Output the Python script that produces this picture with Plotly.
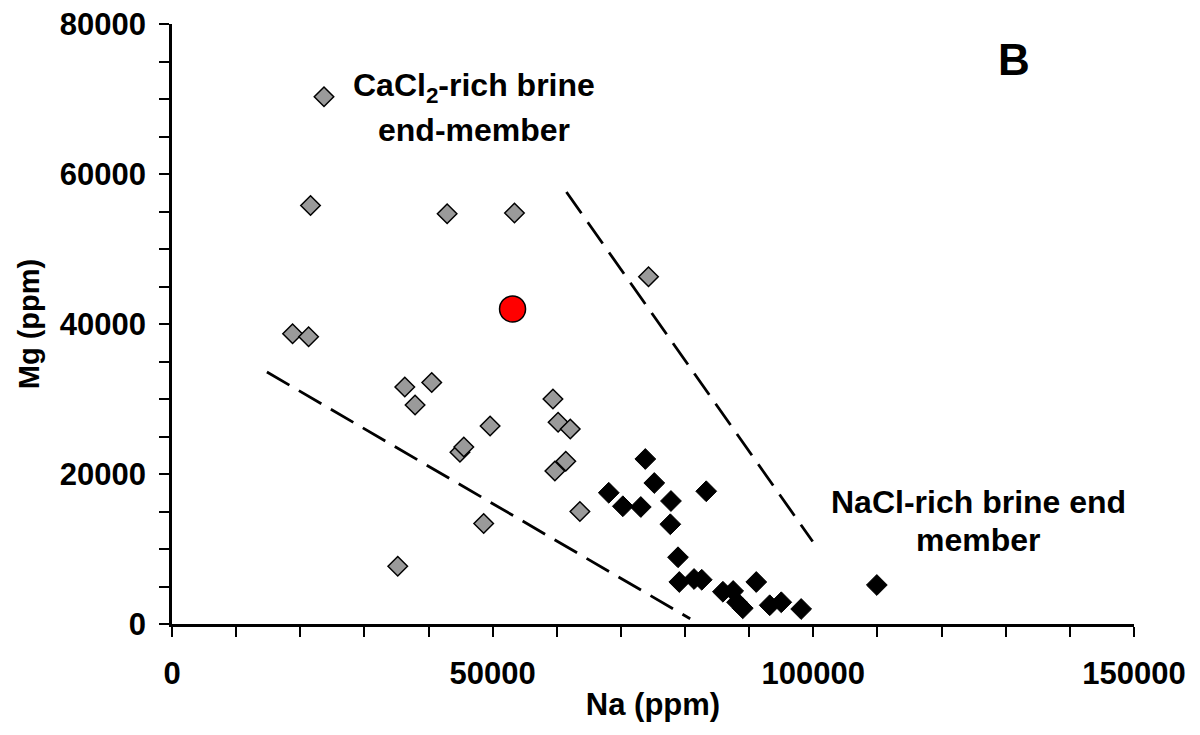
import plotly.graph_objects as go

# Gray diamonds (CaCl2-rich samples)
gray_na = [23700, 21600, 42900, 53400, 74300, 18800, 21300, 36300, 40500, 37900,
           59400, 60200, 62100, 49600, 44900, 45500, 59700, 61400, 63600, 48600, 35200]
gray_mg = [70300, 55800, 54700, 54800, 46300, 38700, 38300, 31600, 32200, 29200,
           30000, 26900, 26000, 26400, 22900, 23600, 20400, 21700, 15000, 13400, 7700]

# Black diamonds (NaCl-rich samples)
black_na = [73800, 75200, 68100, 70300, 73100, 77800, 77700, 83300, 78900, 79100,
            81400, 82600, 85900, 87500, 88100, 89000, 91100, 93200, 95000, 98100, 109900]
black_mg = [22000, 18800, 17500, 15700, 15600, 16400, 13300, 17700, 8900, 5600,
            6000, 5900, 4300, 4400, 2900, 2100, 5600, 2500, 2900, 2000, 5200]

# Red circle
red_na = [53100]
red_mg = [42000]

# Dashed boundary lines
line1_na = [14800, 80800]
line1_mg = [33600, 700]
line2_na = [61500, 99900]
line2_mg = [57600, 11000]

FONT = "Liberation Sans, Arial, sans-serif"

fig = go.Figure()

for lx, ly in [(line1_na, line1_mg), (line2_na, line2_mg)]:
    fig.add_trace(go.Scatter(x=lx, y=ly, mode="lines",
                             line=dict(color="black", width=2.8, dash="26px,11px"),
                             showlegend=False, hoverinfo="skip"))

fig.add_trace(go.Scatter(x=gray_na, y=gray_mg, mode="markers",
                         marker=dict(symbol="diamond", size=15, color="#9a9a9a",
                                     line=dict(color="black", width=1.5)),
                         showlegend=False))
fig.add_trace(go.Scatter(x=black_na, y=black_mg, mode="markers",
                         marker=dict(symbol="diamond", size=16, color="black",
                                     line=dict(color="black", width=1)),
                         showlegend=False))
fig.add_trace(go.Scatter(x=red_na, y=red_mg, mode="markers",
                         marker=dict(symbol="circle", size=26, color="#ff0000",
                                     line=dict(color="black", width=1.5)),
                         showlegend=False))

ann_font = dict(family=FONT, size=32, color="black")
annotations = [
    dict(x=47100, y=71500, text="<b>CaCl<sub>2</sub>-rich brine</b>"),
    dict(x=47100, y=65900, text="<b>end-member</b>"),
    dict(x=125700, y=16300, text="<b>NaCl-rich brine end</b>"),
    dict(x=125700, y=11200, text="<b>member</b>"),
]
for a in annotations:
    fig.add_annotation(xref="x", yref="y", showarrow=False, font=ann_font,
                       xanchor="center", yanchor="middle", **a)
fig.add_annotation(xref="x", yref="y", x=131300, y=75300, text="<b>B</b>",
                   showarrow=False, font=dict(family=FONT, size=44, color="black"),
                   xanchor="center", yanchor="middle")

fig.update_layout(
    width=1192, height=727,
    margin=dict(l=164, r=66, t=16, b=111),
    paper_bgcolor="white", plot_bgcolor="white",
    font=dict(family=FONT, color="black"),
    xaxis=dict(range=[0, 150000], tickvals=[0, 50000, 100000, 150000],
               ticktext=["<b>0</b>", "<b>50000</b>", "<b>100000</b>", "<b>150000</b>"],
               automargin=False, ticklabeloverflow="allow",
               showgrid=False, zeroline=False, showline=True, linecolor="black",
               linewidth=2.5, ticks="outside", ticklen=10, tickwidth=2, tickcolor="black",
               tickfont=dict(family=FONT, size=31, color="black"),
               ticklabelstandoff=10,
               minor=dict(dtick=10000, ticks="outside", ticklen=10, tickwidth=2,
                          tickcolor="black", showgrid=False),
               title=dict(text="<b>Na (ppm)</b>", font=dict(family=FONT, size=31, color="black"),
                          standoff=4)),
    yaxis=dict(range=[0, 80000], tickvals=[0, 20000, 40000, 60000, 80000],
               ticktext=["<b>0</b>", "<b>20000</b>", "<b>40000</b>", "<b>60000</b>", "<b>80000</b>"],
               automargin=False, ticklabeloverflow="allow",
               showgrid=False, zeroline=False, showline=True, linecolor="black",
               linewidth=2.5, ticks="outside", ticklen=10, tickwidth=2, tickcolor="black",
               tickfont=dict(family=FONT, size=31, color="black"),
               ticklabelstandoff=7,
               minor=dict(dtick=5000, ticks="outside", ticklen=10, tickwidth=2,
                          tickcolor="black", showgrid=False),
               title=dict(text="<b>Mg (ppm)</b>", font=dict(family=FONT, size=29, color="black"),
                          standoff=12)),
)

fig.write_html("out.html")
